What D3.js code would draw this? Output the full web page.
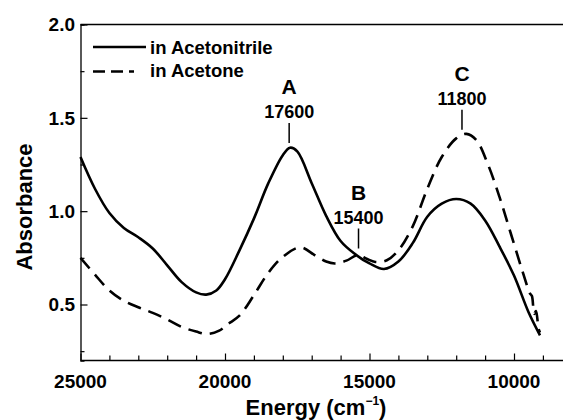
<!DOCTYPE html>
<html>
<head>
<meta charset="utf-8">
<script src="https://cdn.jsdelivr.net/npm/d3@7"></script>
<style>
  body { margin: 0; background: #fff; }
  text { font-family: "Liberation Sans", Arial, sans-serif; font-weight: bold; fill: #000; }
</style>
</head>
<body>
<div id="chart"></div>
<script>
// absorbance spectra, energy in cm-1
var acnEnergy = [25000, 24500, 24000, 23500, 23000, 22500, 22000, 21500, 21000, 20650, 20300, 20000,
                 19500, 19000, 18500, 18000, 17750, 17500, 17000, 16500, 16000, 15500, 15000, 14500,
                 14000, 13500, 13000, 12500, 12000, 11500, 11000, 10500, 10000, 9500, 9100];
var acnAbs = [1.29, 1.12, 0.99, 0.91, 0.86, 0.80, 0.71, 0.62, 0.565, 0.553, 0.575, 0.635,
              0.79, 0.96, 1.15, 1.30, 1.34, 1.32, 1.15, 0.975, 0.84, 0.77, 0.72, 0.69,
              0.73, 0.83, 0.97, 1.04, 1.065, 1.04, 0.95, 0.81, 0.655, 0.46, 0.335];

var aceEnergy = [25000, 24500, 24000, 23500, 23000, 22500, 22000, 21500, 21000, 20600, 20200, 19900,
                 19500, 19000, 18500, 18000, 17400, 16900, 16500, 16200, 15800, 15400, 15100, 14800,
                 14400, 14000, 13500, 13000, 12500, 12000, 11650, 11300, 10900, 10500, 10100, 9700,
                 9450, 9380, 9300, 9240, 9150, 9100];
var aceAbs = [0.75, 0.66, 0.575, 0.52, 0.485, 0.455, 0.42, 0.38, 0.355, 0.342, 0.36, 0.395,
              0.44, 0.55, 0.67, 0.755, 0.806, 0.765, 0.73, 0.72, 0.735, 0.765, 0.745, 0.728,
              0.737, 0.79, 0.92, 1.12, 1.29, 1.39, 1.414, 1.38, 1.25, 1.075, 0.875, 0.675,
              0.56, 0.545, 0.45, 0.465, 0.37, 0.35];

var legendNames = ["in Acetonitrile", "in Acetone"];

var peakLetters = ["A", "B", "C"];
var peakNumbers = ["17600", "15400", "11800"];
var peakEnergy = [17780, 15380, 11800];
var peakAnchor = [1.365, 0.80, 1.436];

var xMajor = [25000, 20000, 15000, 10000];
var yMajor = [0.5, 1.0, 1.5, 2.0];

var width = 563, height = 420;
var plotLeft = 80.5, plotTop = 24.5, plotBottom = 360.5;

var svg = d3.select("#chart").append("svg")
    .attr("width", width)
    .attr("height", height);

svg.append("rect").attr("width", width).attr("height", height).attr("fill", "#fff");

var x = d3.scaleLinear().domain([25000, 8000]).range([plotLeft, plotLeft + 144.5 * 17 / 5]);
var y = d3.scaleLinear().domain([0.2, 2.0]).range([plotBottom, plotTop]);

// frame (right side runs off the picture)
svg.append("line").attr("x1", plotLeft).attr("x2", width + 5).attr("y1", plotTop).attr("y2", plotTop)
    .attr("stroke", "#000").attr("stroke-width", 1.3);

// x axis
var xAxis = svg.append("g").attr("transform", "translate(0," + plotBottom + ")")
    .call(d3.axisBottom(x).tickValues(d3.range(25000, 7999, -1000)).tickSize(-5).tickFormat(""));
xAxis.selectAll("line").filter(function(d) { return d % 5000 == 0; }).attr("y2", -7);
xAxis.select(".domain").attr("d", "M" + plotLeft + ",0H" + (width + 5)).attr("stroke-width", 1.3);
xAxis.selectAll("line").attr("stroke-width", 1.2);

svg.selectAll(".xlab").data(xMajor).enter().append("text")
    .attr("x", function(d) { return x(d); })
    .attr("y", 388)
    .attr("text-anchor", "middle")
    .style("font-size", "19px")
    .text(function(d) { return d; });

// y axis
var yAxis = svg.append("g").attr("transform", "translate(" + plotLeft + ",0)")
    .call(d3.axisLeft(y).tickValues(d3.range(0.25, 2.01, 0.25)).tickSize(-4).tickFormat(""));
yAxis.selectAll("line").filter(function(d) { return Math.abs(d * 2 - Math.round(d * 2)) < 1e-6; }).attr("x2", 7);
yAxis.select(".domain").attr("stroke-width", 1.3);
yAxis.selectAll("line").attr("stroke-width", 1.2);

svg.selectAll(".ylab").data(yMajor).enter().append("text")
    .attr("x", 75)
    .attr("y", function(d) { return y(d); })
    .attr("dy", "0.36em")
    .attr("text-anchor", "end")
    .style("font-size", "19px")
    .text(function(d) { return d.toFixed(1); });

// titles
svg.append("text")
    .attr("transform", "translate(24,207) rotate(-90)")
    .attr("dy", "0.36em")
    .attr("text-anchor", "middle")
    .style("font-size", "22px")
    .text("Absorbance");

var xt = svg.append("text")
    .attr("x", 316)
    .attr("y", 415)
    .attr("text-anchor", "middle")
    .style("font-size", "22px");
xt.append("tspan").text("Energy (cm");
xt.append("tspan").attr("dy", -10).style("font-size", "12px").text("\u22121");
xt.append("tspan").attr("dy", 10).text(")");

// curves
var line = d3.line()
    .x(function(d) { return x(d[0]); })
    .y(function(d) { return y(d[1]); })
    .curve(d3.curveCatmullRom);

var acn = d3.zip(acnEnergy, acnAbs);
var ace = d3.zip(aceEnergy, aceAbs);

svg.append("path").datum(acn).attr("d", line)
    .attr("fill", "none").attr("stroke", "#000").attr("stroke-width", 2.6);

svg.append("path").datum(ace).attr("d", line)
    .attr("fill", "none").attr("stroke", "#000").attr("stroke-width", 2.6)
    .attr("stroke-dasharray", "14,8");

// legend
var leg = svg.append("g");
leg.append("line").attr("x1", 93).attr("x2", 146).attr("y1", 47).attr("y2", 47)
    .attr("stroke", "#000").attr("stroke-width", 2.6);
leg.append("line").attr("x1", 93).attr("x2", 134).attr("y1", 71.5).attr("y2", 71.5)
    .attr("stroke", "#000").attr("stroke-width", 2.6).attr("stroke-dasharray", "12,6");
leg.selectAll("text").data(legendNames).enter().append("text")
    .attr("x", 150)
    .attr("y", function(d, i) { return 54 + i * 23; })
    .style("font-size", "18.5px")
    .text(function(d) { return d; });

// peak markers
var peaks = svg.selectAll(".peak").data(peakLetters).enter().append("g")
    .attr("transform", function(d, i) { return "translate(" + x(peakEnergy[i]) + "," + y(peakAnchor[i]) + ")"; });
peaks.append("line").attr("x1", 0).attr("x2", 0).attr("y1", 0).attr("y2", -20)
    .attr("stroke", "#000").attr("stroke-width", 1.5);
peaks.append("text").attr("y", -25).attr("text-anchor", "middle")
    .style("font-size", "18px")
    .text(function(d, i) { return peakNumbers[i]; });
peaks.append("text").attr("y", -49).attr("text-anchor", "middle")
    .style("font-size", "21px")
    .text(function(d) { return d; });
</script>
</body>
</html>
